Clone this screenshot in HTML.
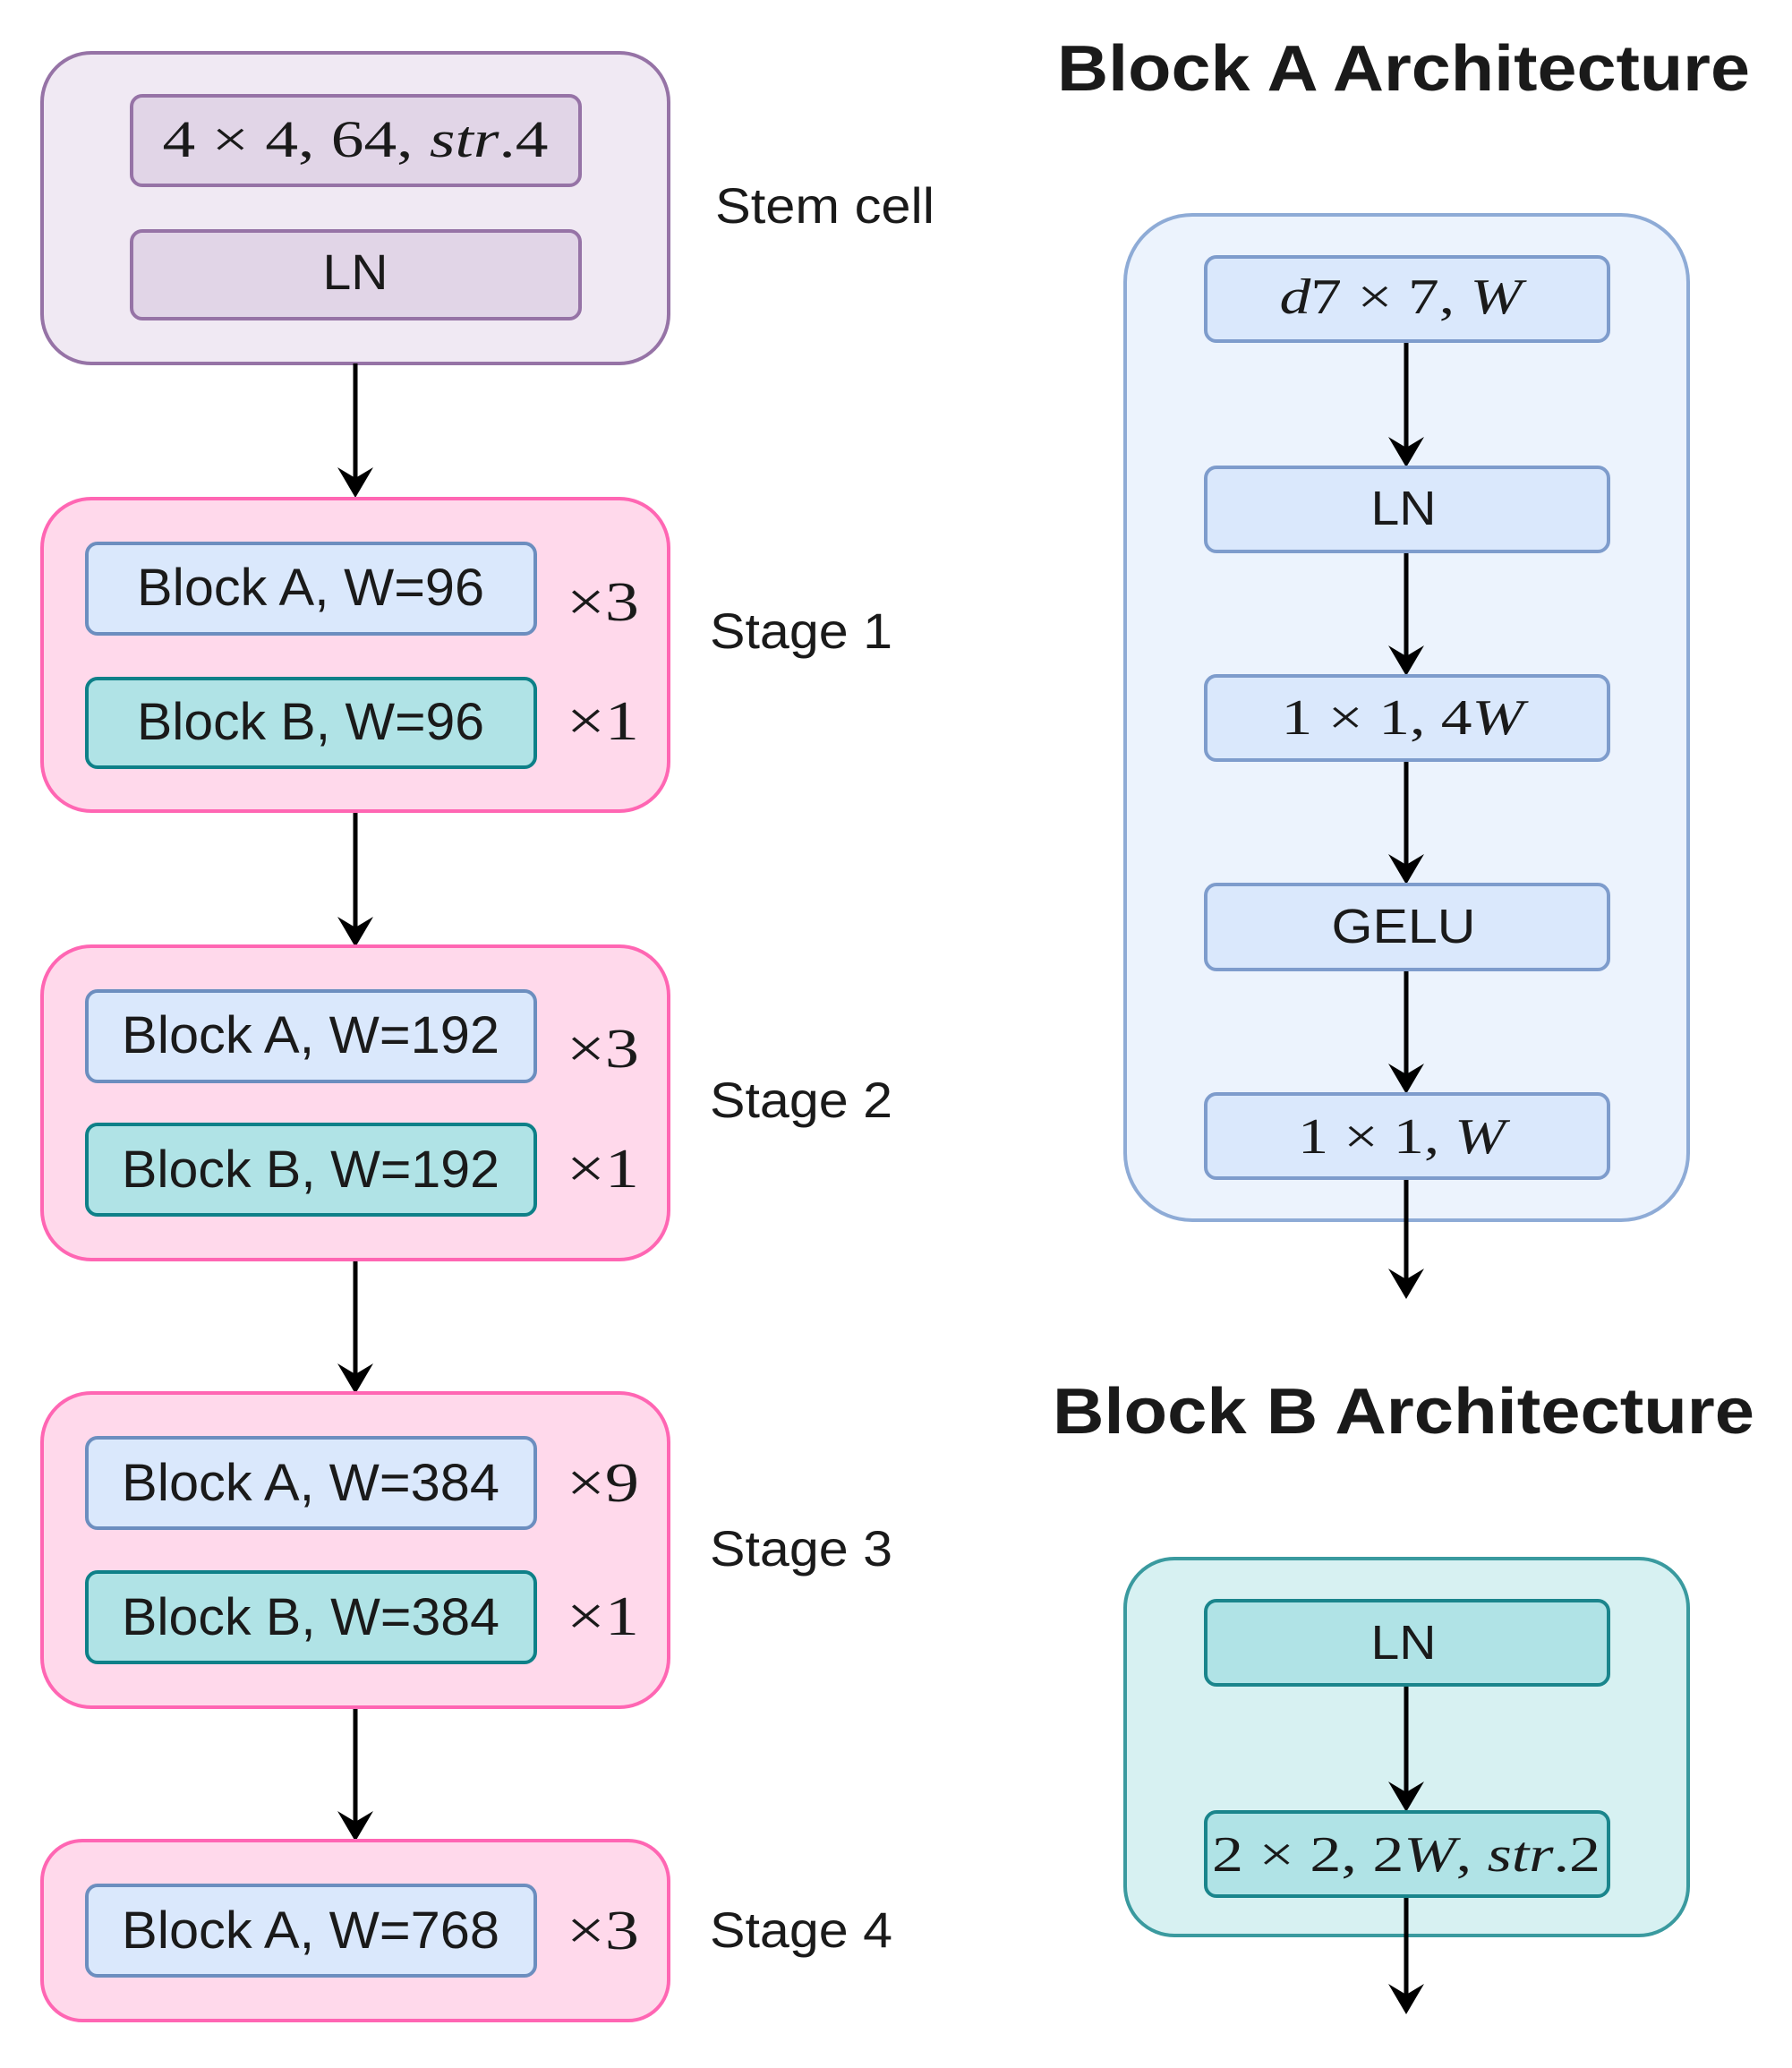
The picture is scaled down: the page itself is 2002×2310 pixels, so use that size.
<!DOCTYPE html>
<html><head><meta charset="utf-8"><style>
html,body{margin:0;padding:0;background:#fff;}
svg{display:block;}
.t{font-family:"Liberation Sans",sans-serif;fill:#1a1a1a;}
.m{font-family:"Liberation Serif",serif;fill:#1a1a1a;}
</style></head><body>
<svg width="2002" height="2310" viewBox="0 0 2002 2310" xmlns="http://www.w3.org/2000/svg">
<defs>
<g id="ah"><polygon points="-20,-34 0,-22 20,-34 0,0" fill="#000"/></g>
</defs>
<!-- Stem -->
<rect x="47" y="59" width="700" height="347" rx="55" fill="#f0e9f3" stroke="#9673a6" stroke-width="4"/>
<rect x="147" y="107" width="501" height="100" rx="12" fill="#e1d5e7" stroke="#9673a6" stroke-width="4"/>
<text x="397" y="175" class="m" font-size="58" text-anchor="middle" textLength="431" lengthAdjust="spacingAndGlyphs">4 × 4, 64, <tspan font-style="italic">str</tspan>.4</text>
<rect x="147" y="258" width="501" height="98" rx="12" fill="#e1d5e7" stroke="#9673a6" stroke-width="4"/>
<text x="397" y="323" class="t" font-size="56" text-anchor="middle" textLength="73" lengthAdjust="spacingAndGlyphs">LN</text>
<text x="799" y="249" class="t" font-size="56" textLength="245" lengthAdjust="spacingAndGlyphs">Stem cell</text>

<!-- arrows left -->
<g stroke="#000" stroke-width="5">
<line x1="397" y1="406" x2="397" y2="540"/>
<line x1="397" y1="906" x2="397" y2="1043"/>
<line x1="397" y1="1407" x2="397" y2="1542"/>
<line x1="397" y1="1907" x2="397" y2="2042"/>
</g>
<use href="#ah" x="397" y="556"/>
<use href="#ah" x="397" y="1058"/>
<use href="#ah" x="397" y="1557"/>
<use href="#ah" x="397" y="2057"/>

<!-- Stage 1 -->
<rect x="47" y="557" width="700" height="349" rx="55" fill="#ffd9eb" stroke="#ff66b3" stroke-width="4"/>
<rect x="97" y="607" width="501" height="101" rx="12" fill="#dae8fc" stroke="#6c8ebf" stroke-width="4"/>
<text x="347" y="676" class="t" font-size="58" text-anchor="middle" textLength="388" lengthAdjust="spacingAndGlyphs">Block A, W=96</text>
<rect x="97" y="758" width="501" height="99" rx="12" fill="#b0e3e6" stroke="#0e8088" stroke-width="4"/>
<text x="347" y="826" class="t" font-size="58" text-anchor="middle" textLength="388" lengthAdjust="spacingAndGlyphs">Block B, W=96</text>
<text x="633" y="693" class="m" font-size="62" textLength="81" lengthAdjust="spacingAndGlyphs">×3</text>
<text x="633" y="826" class="m" font-size="62" textLength="81" lengthAdjust="spacingAndGlyphs">×1</text>
<text x="793" y="724" class="t" font-size="56" textLength="204" lengthAdjust="spacingAndGlyphs">Stage 1</text>

<!-- Stage 2 -->
<rect x="47" y="1057" width="700" height="350" rx="55" fill="#ffd9eb" stroke="#ff66b3" stroke-width="4"/>
<rect x="97" y="1107" width="501" height="101" rx="12" fill="#dae8fc" stroke="#6c8ebf" stroke-width="4"/>
<text x="347" y="1176" class="t" font-size="58" text-anchor="middle" textLength="422" lengthAdjust="spacingAndGlyphs">Block A, W=192</text>
<rect x="97" y="1256" width="501" height="101" rx="12" fill="#b0e3e6" stroke="#0e8088" stroke-width="4"/>
<text x="347" y="1326" class="t" font-size="58" text-anchor="middle" textLength="422" lengthAdjust="spacingAndGlyphs">Block B, W=192</text>
<text x="633" y="1192" class="m" font-size="62" textLength="81" lengthAdjust="spacingAndGlyphs">×3</text>
<text x="633" y="1326" class="m" font-size="62" textLength="81" lengthAdjust="spacingAndGlyphs">×1</text>
<text x="793" y="1248" class="t" font-size="56" textLength="204" lengthAdjust="spacingAndGlyphs">Stage 2</text>

<!-- Stage 3 -->
<rect x="47" y="1556" width="700" height="351" rx="55" fill="#ffd9eb" stroke="#ff66b3" stroke-width="4"/>
<rect x="97" y="1606" width="501" height="101" rx="12" fill="#dae8fc" stroke="#6c8ebf" stroke-width="4"/>
<text x="347" y="1676" class="t" font-size="58" text-anchor="middle" textLength="422" lengthAdjust="spacingAndGlyphs">Block A, W=384</text>
<rect x="97" y="1756" width="501" height="101" rx="12" fill="#b0e3e6" stroke="#0e8088" stroke-width="4"/>
<text x="347" y="1826" class="t" font-size="58" text-anchor="middle" textLength="422" lengthAdjust="spacingAndGlyphs">Block B, W=384</text>
<text x="633" y="1677" class="m" font-size="62" textLength="81" lengthAdjust="spacingAndGlyphs">×9</text>
<text x="633" y="1826" class="m" font-size="62" textLength="81" lengthAdjust="spacingAndGlyphs">×1</text>
<text x="793" y="1749" class="t" font-size="56" textLength="204" lengthAdjust="spacingAndGlyphs">Stage 3</text>

<!-- Stage 4 -->
<rect x="47" y="2056" width="700" height="201" rx="45" fill="#ffd9eb" stroke="#ff66b3" stroke-width="4"/>
<rect x="97" y="2106" width="501" height="101" rx="12" fill="#dae8fc" stroke="#6c8ebf" stroke-width="4"/>
<text x="347" y="2176" class="t" font-size="58" text-anchor="middle" textLength="422" lengthAdjust="spacingAndGlyphs">Block A, W=768</text>
<text x="633" y="2177" class="m" font-size="62" textLength="81" lengthAdjust="spacingAndGlyphs">×3</text>
<text x="793" y="2175" class="t" font-size="56" textLength="204" lengthAdjust="spacingAndGlyphs">Stage 4</text>

<!-- Block A Architecture -->
<text x="1568" y="101" class="t" font-size="72" font-weight="bold" fill="#000" text-anchor="middle" textLength="774" lengthAdjust="spacingAndGlyphs">Block A Architecture</text>
<rect x="1257" y="240" width="629" height="1123" rx="75" fill="#ecf3fd" stroke="#8eabd6" stroke-width="4"/>
<g stroke="#000" stroke-width="5">
<line x1="1571" y1="381" x2="1571" y2="508"/>
<line x1="1571" y1="616" x2="1571" y2="741"/>
<line x1="1571" y1="849" x2="1571" y2="974"/>
<line x1="1571" y1="1083" x2="1571" y2="1208"/>
<line x1="1571" y1="1316" x2="1571" y2="1436"/>
</g>
<use href="#ah" x="1571" y="522"/>
<use href="#ah" x="1571" y="755"/>
<use href="#ah" x="1571" y="988"/>
<use href="#ah" x="1571" y="1222"/>
<use href="#ah" x="1571" y="1451"/>

<rect x="1347" y="287" width="450" height="94" rx="12" fill="#dae8fc" stroke="#7e9ccc" stroke-width="4"/>
<text x="1565" y="350" class="m" font-size="56" text-anchor="middle" textLength="271" lengthAdjust="spacingAndGlyphs"><tspan font-style="italic">d</tspan>7 × 7, <tspan font-style="italic">W</tspan></text>
<rect x="1347" y="522" width="450" height="94" rx="12" fill="#dae8fc" stroke="#7e9ccc" stroke-width="4"/>
<text x="1568" y="586" class="t" font-size="54" text-anchor="middle" textLength="73" lengthAdjust="spacingAndGlyphs">LN</text>
<rect x="1347" y="755" width="450" height="94" rx="12" fill="#dae8fc" stroke="#7e9ccc" stroke-width="4"/>
<text x="1567" y="820" class="m" font-size="56" text-anchor="middle" textLength="271" lengthAdjust="spacingAndGlyphs">1 × 1, 4<tspan font-style="italic">W</tspan></text>
<rect x="1347" y="988" width="450" height="95" rx="12" fill="#dae8fc" stroke="#7e9ccc" stroke-width="4"/>
<text x="1568" y="1053" class="t" font-size="54" text-anchor="middle" textLength="161" lengthAdjust="spacingAndGlyphs">GELU</text>
<rect x="1347" y="1222" width="450" height="94" rx="12" fill="#dae8fc" stroke="#7e9ccc" stroke-width="4"/>
<text x="1566" y="1288" class="m" font-size="56" text-anchor="middle" textLength="232" lengthAdjust="spacingAndGlyphs">1 × 1, <tspan font-style="italic">W</tspan></text>

<!-- Block B Architecture -->
<text x="1568" y="1601" class="t" font-size="72" font-weight="bold" fill="#000" text-anchor="middle" textLength="784" lengthAdjust="spacingAndGlyphs">Block B Architecture</text>
<rect x="1257" y="1741" width="629" height="421" rx="55" fill="#d7f1f2" stroke="#3a9a9f" stroke-width="4"/>
<g stroke="#000" stroke-width="5">
<line x1="1571" y1="1882" x2="1571" y2="2010"/>
<line x1="1571" y1="2118" x2="1571" y2="2236"/>
</g>
<use href="#ah" x="1571" y="2024"/>
<use href="#ah" x="1571" y="2250"/>
<rect x="1347" y="1788" width="450" height="94" rx="12" fill="#b0e3e6" stroke="#1a858c" stroke-width="4"/>
<text x="1568" y="1853" class="t" font-size="54" text-anchor="middle" textLength="73" lengthAdjust="spacingAndGlyphs">LN</text>
<rect x="1347" y="2024" width="450" height="94" rx="12" fill="#b0e3e6" stroke="#1a858c" stroke-width="4"/>
<text x="1571" y="2090" class="m" font-size="56" text-anchor="middle" textLength="434" lengthAdjust="spacingAndGlyphs">2 × 2, 2<tspan font-style="italic">W</tspan>, <tspan font-style="italic">str</tspan>.2</text>
</svg>
</body></html>
